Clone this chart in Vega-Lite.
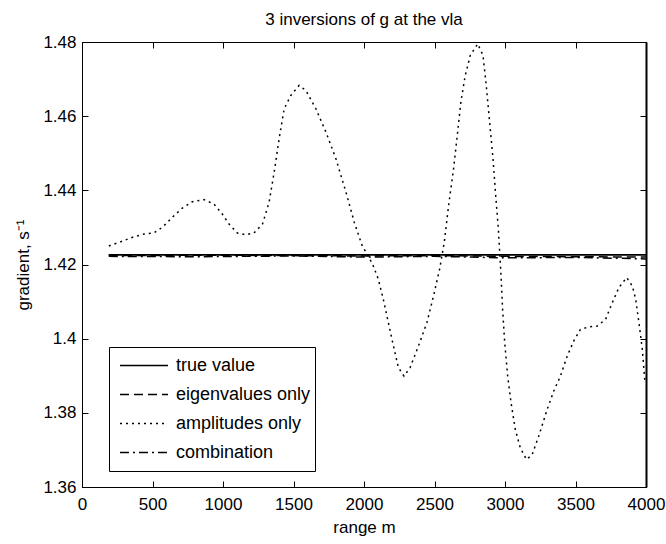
{
  "$schema": "https://vega.github.io/schema/vega-lite/v6.json",
  "autosize": {"type": "none"},
  "padding": {"left": 82, "top": 42, "right": 20, "bottom": 57},
  "width": 564,
  "height": 445,
  "background": "white",
  "title": {"text": "3 inversions of g at the vla", "fontSize": 17, "fontWeight": "normal", "font": "Liberation Sans", "color": "black", "offset": 4},
  "config": {
    "font": "Liberation Sans",
    "view": {"stroke": "black", "strokeWidth": 1},
    "axis": {"domainColor": "black", "tickColor": "black", "labelColor": "black", "titleColor": "black", "labelFontSize": 17, "titleFontSize": 17, "titleFontWeight": "normal", "grid": false, "labelFont": "Liberation Sans", "titleFont": "Liberation Sans"}
  },
  "data": {"values": [
    {"series": "true value", "x": 190, "y": 1.4226},
    {"series": "true value", "x": 4000, "y": 1.4226},
    {"series": "eigenvalues only", "x": 190, "y": 1.4224},
    {"series": "eigenvalues only", "x": 1000, "y": 1.4225},
    {"series": "eigenvalues only", "x": 2000, "y": 1.4223},
    {"series": "eigenvalues only", "x": 2500, "y": 1.4224},
    {"series": "eigenvalues only", "x": 3000, "y": 1.4222},
    {"series": "eigenvalues only", "x": 3500, "y": 1.4221},
    {"series": "eigenvalues only", "x": 4000, "y": 1.422},
    {"series": "combination", "x": 190, "y": 1.4222},
    {"series": "combination", "x": 800, "y": 1.4221},
    {"series": "combination", "x": 1500, "y": 1.4223},
    {"series": "combination", "x": 2000, "y": 1.422},
    {"series": "combination", "x": 2500, "y": 1.4222},
    {"series": "combination", "x": 3000, "y": 1.4218},
    {"series": "combination", "x": 3500, "y": 1.4219},
    {"series": "combination", "x": 3900, "y": 1.4216},
    {"series": "combination", "x": 4000, "y": 1.4215},
    {"series": "amplitudes only", "x": 190, "y": 1.425},
    {"series": "amplitudes only", "x": 272, "y": 1.4261},
    {"series": "amplitudes only", "x": 355, "y": 1.4273},
    {"series": "amplitudes only", "x": 438, "y": 1.4282},
    {"series": "amplitudes only", "x": 509, "y": 1.4285},
    {"series": "amplitudes only", "x": 569, "y": 1.43},
    {"series": "amplitudes only", "x": 640, "y": 1.4327},
    {"series": "amplitudes only", "x": 711, "y": 1.4352},
    {"series": "amplitudes only", "x": 782, "y": 1.4369},
    {"series": "amplitudes only", "x": 865, "y": 1.4375},
    {"series": "amplitudes only", "x": 936, "y": 1.4363},
    {"series": "amplitudes only", "x": 995, "y": 1.4336},
    {"series": "amplitudes only", "x": 1043, "y": 1.4309},
    {"series": "amplitudes only", "x": 1102, "y": 1.4285},
    {"series": "amplitudes only", "x": 1161, "y": 1.428},
    {"series": "amplitudes only", "x": 1220, "y": 1.4285},
    {"series": "amplitudes only", "x": 1280, "y": 1.4309},
    {"series": "amplitudes only", "x": 1327, "y": 1.4368},
    {"series": "amplitudes only", "x": 1363, "y": 1.4449},
    {"series": "amplitudes only", "x": 1398, "y": 1.4539},
    {"series": "amplitudes only", "x": 1434, "y": 1.462},
    {"series": "amplitudes only", "x": 1481, "y": 1.4656},
    {"series": "amplitudes only", "x": 1540, "y": 1.4683},
    {"series": "amplitudes only", "x": 1588, "y": 1.4669},
    {"series": "amplitudes only", "x": 1659, "y": 1.462},
    {"series": "amplitudes only", "x": 1730, "y": 1.4557},
    {"series": "amplitudes only", "x": 1801, "y": 1.4485},
    {"series": "amplitudes only", "x": 1872, "y": 1.4395},
    {"series": "amplitudes only", "x": 1931, "y": 1.4314},
    {"series": "amplitudes only", "x": 1991, "y": 1.4246},
    {"series": "amplitudes only", "x": 2019, "y": 1.4232},
    {"series": "amplitudes only", "x": 2066, "y": 1.4196},
    {"series": "amplitudes only", "x": 2102, "y": 1.416},
    {"series": "amplitudes only", "x": 2137, "y": 1.4106},
    {"series": "amplitudes only", "x": 2173, "y": 1.4043},
    {"series": "amplitudes only", "x": 2209, "y": 1.398},
    {"series": "amplitudes only", "x": 2244, "y": 1.3922},
    {"series": "amplitudes only", "x": 2284, "y": 1.3899},
    {"series": "amplitudes only", "x": 2327, "y": 1.3922},
    {"series": "amplitudes only", "x": 2386, "y": 1.398},
    {"series": "amplitudes only", "x": 2446, "y": 1.4043},
    {"series": "amplitudes only", "x": 2493, "y": 1.4115},
    {"series": "amplitudes only", "x": 2536, "y": 1.4187},
    {"series": "amplitudes only", "x": 2569, "y": 1.4259},
    {"series": "amplitudes only", "x": 2600, "y": 1.4359},
    {"series": "amplitudes only", "x": 2635, "y": 1.4458},
    {"series": "amplitudes only", "x": 2659, "y": 1.4539},
    {"series": "amplitudes only", "x": 2687, "y": 1.4638},
    {"series": "amplitudes only", "x": 2718, "y": 1.471},
    {"series": "amplitudes only", "x": 2754, "y": 1.4764},
    {"series": "amplitudes only", "x": 2806, "y": 1.4795},
    {"series": "amplitudes only", "x": 2844, "y": 1.4764},
    {"series": "amplitudes only", "x": 2867, "y": 1.4683},
    {"series": "amplitudes only", "x": 2891, "y": 1.4584},
    {"series": "amplitudes only", "x": 2915, "y": 1.4485},
    {"series": "amplitudes only", "x": 2934, "y": 1.4386},
    {"series": "amplitudes only", "x": 2953, "y": 1.4295},
    {"series": "amplitudes only", "x": 2972, "y": 1.4169},
    {"series": "amplitudes only", "x": 2983, "y": 1.4079},
    {"series": "amplitudes only", "x": 2998, "y": 1.3989},
    {"series": "amplitudes only", "x": 3019, "y": 1.3899},
    {"series": "amplitudes only", "x": 3043, "y": 1.3827},
    {"series": "amplitudes only", "x": 3073, "y": 1.3755},
    {"series": "amplitudes only", "x": 3109, "y": 1.3705},
    {"series": "amplitudes only", "x": 3152, "y": 1.3674},
    {"series": "amplitudes only", "x": 3192, "y": 1.3687},
    {"series": "amplitudes only", "x": 3239, "y": 1.3737},
    {"series": "amplitudes only", "x": 3299, "y": 1.3809},
    {"series": "amplitudes only", "x": 3346, "y": 1.3859},
    {"series": "amplitudes only", "x": 3393, "y": 1.3899},
    {"series": "amplitudes only", "x": 3441, "y": 1.3953},
    {"series": "amplitudes only", "x": 3488, "y": 1.3994},
    {"series": "amplitudes only", "x": 3535, "y": 1.4025},
    {"series": "amplitudes only", "x": 3595, "y": 1.4032},
    {"series": "amplitudes only", "x": 3654, "y": 1.4034},
    {"series": "amplitudes only", "x": 3713, "y": 1.4052},
    {"series": "amplitudes only", "x": 3761, "y": 1.4097},
    {"series": "amplitudes only", "x": 3808, "y": 1.4138},
    {"series": "amplitudes only", "x": 3863, "y": 1.4165},
    {"series": "amplitudes only", "x": 3903, "y": 1.4142},
    {"series": "amplitudes only", "x": 3927, "y": 1.4106},
    {"series": "amplitudes only", "x": 3950, "y": 1.4043},
    {"series": "amplitudes only", "x": 3974, "y": 1.3971},
    {"series": "amplitudes only", "x": 3991, "y": 1.389},
    {"series": "amplitudes only", "x": 4000, "y": 1.388}
  ]},
  "layer": [
    {
      "mark": {"type": "line", "color": "black", "strokeWidth": 1.5, "clip": true},
      "encoding": {
        "x": {
          "field": "x", "type": "quantitative",
          "scale": {"domain": [0, 4000], "nice": false, "zero": false},
          "axis": {"title": "range m", "values": [0, 500, 1000, 1500, 2000, 2500, 3000, 3500, 4000], "format": "d", "tickSize": -6, "labelPadding": 15, "titlePadding": 7, "labelFlush": false, "labelOverlap": false}
        },
        "y": {
          "field": "y", "type": "quantitative",
          "scale": {"domain": [1.36, 1.48], "nice": false, "zero": false},
          "axis": {"title": "gradient, s⁻¹", "values": [1.36, 1.38, 1.4, 1.42, 1.44, 1.46, 1.48], "format": "~g", "tickSize": -6, "labelPadding": 12, "titlePadding": 10, "labelFlush": false, "labelOverlap": false}
        },
        "strokeDash": {
          "field": "series", "type": "nominal",
          "scale": {"domain": ["true value", "eigenvalues only", "amplitudes only", "combination"], "range": [[1, 0], [9, 5], [2, 4], [9, 4, 2, 4]]},
          "legend": {
            "title": null, "orient": "none", "legendX": 27, "legendY": 305,
            "strokeColor": "black", "fillColor": "white", "padding": 4,
            "symbolType": "stroke", "symbolSize": 2304, "clipHeight": 29,
            "symbolStrokeColor": "black", "symbolStrokeWidth": 1.5, "symbolOffset": 6,
            "labelOffset": 7, "labelFontSize": 18, "labelColor": "black", "labelFont": "Liberation Sans", "rowPadding": 0
          }
        }
      }
    },
    {
      "transform": [{"filter": "datum.series === 'true value'"}],
      "mark": {"type": "line", "color": "black", "strokeWidth": 1.5, "clip": true},
      "encoding": {
        "x": {
          "field": "x", "type": "quantitative",
          "axis": {"orient": "top", "title": null, "labels": false, "values": [0, 500, 1000, 1500, 2000, 2500, 3000, 3500, 4000], "tickSize": -6}
        },
        "y": {
          "field": "y", "type": "quantitative",
          "axis": {"orient": "right", "title": null, "labels": false, "values": [1.36, 1.38, 1.4, 1.42, 1.44, 1.46, 1.48], "tickSize": -6, "domainWidth": 2}
        }
      }
    }
  ],
  "resolve": {"axis": {"x": "independent", "y": "independent"}}
}
